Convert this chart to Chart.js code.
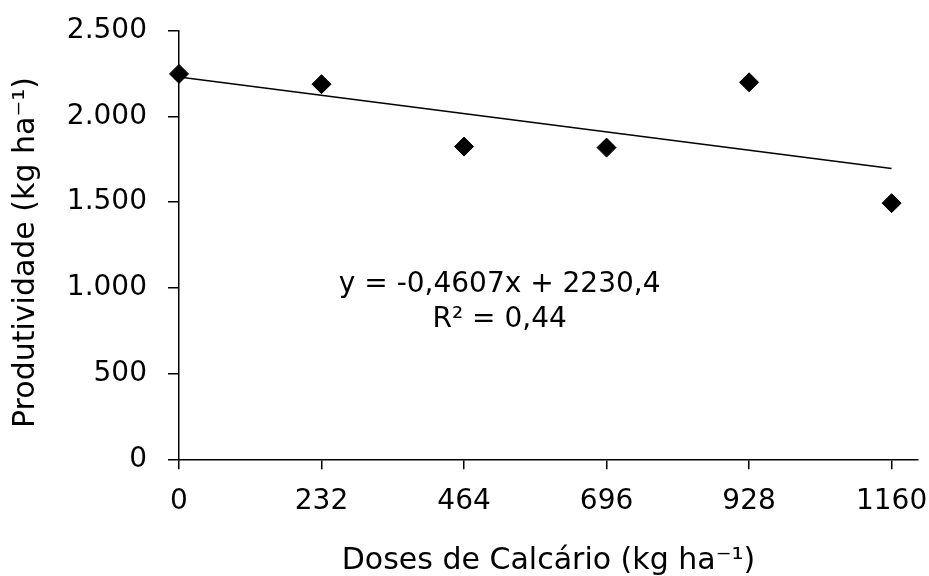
<!DOCTYPE html>
<html>
<head>
<meta charset="utf-8">
<script src="https://cdn.jsdelivr.net/npm/chart.js@4"></script>
<style>
  html, body { margin: 0; padding: 0; background: #fff; }
  #wrap { width: 929px; height: 576px; position: relative; }
</style>
</head>
<body>
<div id="wrap"><canvas id="c" width="929" height="576"></canvas></div>
<script>
// ---- data ----
const doses = [0, 232, 464, 696, 928, 1160];
const produtividade = [2248, 2188, 1824, 1818, 2199, 1494];
const trendX = [0, 1160];
const trendY = [2230.4, 1696.0];
const xTickValues = [0, 232, 464, 696, 928, 1160];
const xTickLabels = ['0', '232', '464', '696', '928', '1160'];
const yTickValues = [0, 500, 1000, 1500, 2000, 2500];
const yTickLabels = ['0', '500', '1.000', '1.500', '2.000', '2.500'];
const equationLines = ['y = -0,4607x + 2230,4', 'R\u00B2 = 0,44'];
const xTitle = 'Doses de Calc\u00E1rio (kg ha\u207B\u00B9)';
const yTitle = 'Produtividade (kg ha\u207B\u00B9)\u2002';

const FONT = "'DejaVu Sans', Verdana, sans-serif";

const equationPlugin = {
  id: 'equation',
  afterDatasetsDraw(chart) {
    const ctx = chart.ctx;
    const xs = chart.scales.x, ys = chart.scales.y;
    const cx = xs.getPixelForValue(522);
    const y1 = ys.getPixelForValue(1017);
    const y2 = ys.getPixelForValue(812);
    ctx.save();
    ctx.fillStyle = '#000';
    ctx.font = '28px ' + FONT;
    ctx.textAlign = 'center';
    ctx.textBaseline = 'middle';
    ctx.fillText(equationLines[0], cx, y1);
    ctx.fillText(equationLines[1], cx, y2);
    ctx.restore();
  }
};

new Chart(document.getElementById('c'), {
  type: 'scatter',
  data: {
    datasets: [
      {
        label: 'Produtividade',
        data: doses.map((d, i) => ({ x: d, y: produtividade[i] })),
        pointStyle: 'rectRot',
        pointRadius: 9.5,
        pointBackgroundColor: '#000',
        pointBorderColor: '#000',
        pointBorderWidth: 1,
        showLine: false,
        clip: false
      },
      {
        label: 'Linear',
        type: 'line',
        data: trendX.map((d, i) => ({ x: d, y: trendY[i] })),
        borderColor: '#000',
        borderWidth: 1.5,
        pointRadius: 0,
        fill: false,
        clip: false
      }
    ]
  },
  options: {
    responsive: false,
    animation: false,
    devicePixelRatio: 1,
    layout: { padding: { top: 30.7, right: 11, left: 0, bottom: 0 } },
    plugins: { legend: { display: false }, tooltip: { enabled: false } },
    scales: {
      x: {
        type: 'linear',
        min: 0,
        max: 1203,
        afterBuildTicks(scale) { scale.ticks = xTickValues.map(v => ({ value: v })); },
        afterFit(scale) { scale.height = 116.7; scale.paddingLeft = 0; scale.paddingRight = 0; },
        border: { display: true, color: '#000', width: 1.5 },
        grid: { display: true, drawOnChartArea: false, drawTicks: true, tickLength: 10, color: '#000', lineWidth: 1.5 },
        ticks: {
          color: '#000', font: { family: FONT, size: 28 }, padding: 16, maxRotation: 0, autoSkip: false,
          callback: (v) => { const i = xTickValues.indexOf(v); return i >= 0 ? xTickLabels[i] : ''; }
        },
        title: { display: true, text: xTitle, color: '#000', font: { family: FONT, size: 30, lineHeight: 1 }, padding: { top: 0, bottom: 0 } }
      },
      y: {
        type: 'linear',
        min: 0,
        max: 2500,
        afterBuildTicks(scale) { scale.ticks = yTickValues.map(v => ({ value: v })); },
        afterFit(scale) { scale.width = 179; scale.paddingTop = 0; scale.paddingBottom = 0; },
        border: { display: true, color: '#000', width: 1.5 },
        grid: { display: true, drawOnChartArea: false, drawTicks: true, tickLength: 11, color: '#000', lineWidth: 1.5 },
        ticks: {
          color: '#000', font: { family: FONT, size: 28 }, padding: 21, autoSkip: false,
          callback: (v) => { const i = yTickValues.indexOf(v); return i >= 0 ? yTickLabels[i] : ''; }
        },
        title: { display: true, text: yTitle, color: '#000', font: { family: FONT, size: 30, lineHeight: 1 }, padding: { top: 11, bottom: 0 } }
      }
    }
  },
  plugins: [equationPlugin]
});
</script>
</body>
</html>
